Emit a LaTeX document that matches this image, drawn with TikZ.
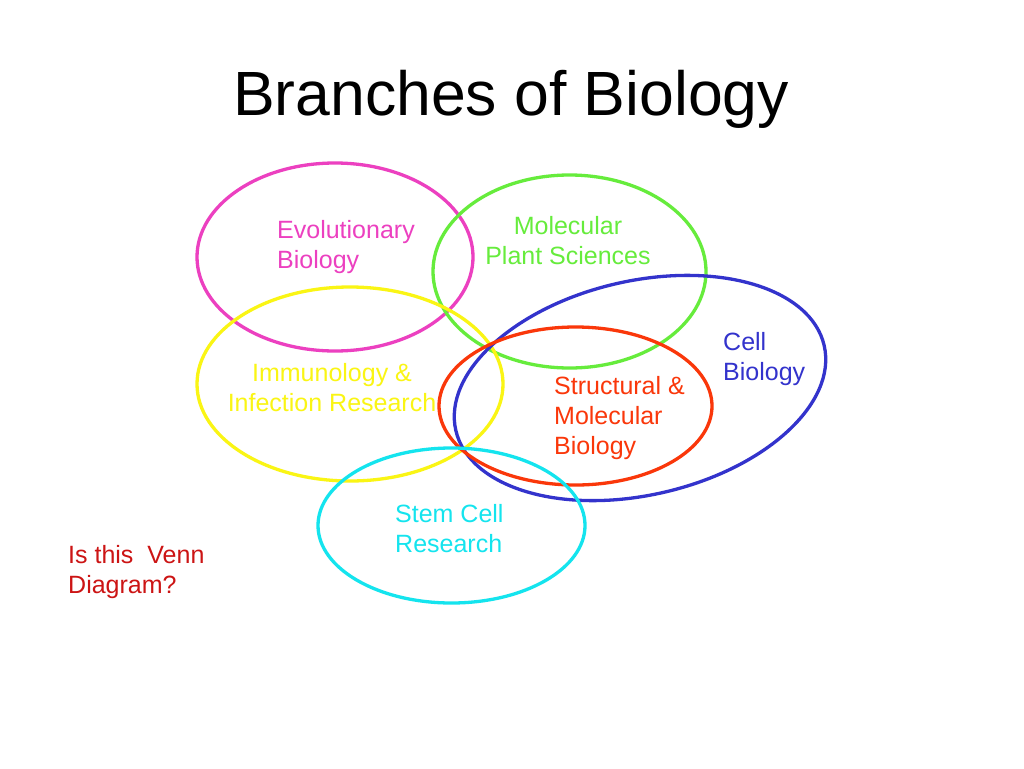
\documentclass[tikz,border=0pt]{standalone}
\usepackage{fontspec}
\setmainfont{Liberation Sans}
\definecolor{cmag}{RGB}{236,64,192}
\definecolor{cgreen}{RGB}{102,236,60}
\definecolor{cyel}{RGB}{250,245,20}
\definecolor{cblue}{RGB}{51,51,204}
\definecolor{cred}{RGB}{250,55,10}
\definecolor{ccyan}{RGB}{20,228,238}
\definecolor{cdred}{RGB}{204,20,20}
\begin{document}
\begin{tikzpicture}[x=1pt,y=1pt,
  ring/.style={line width=3.3pt},
  lbl/.style={inner sep=0pt,font=\fontsize{25}{30}\selectfont}]
\useasboundingbox[fill=white] (0,0) rectangle (1024,-768);
\node[inner sep=0pt,anchor=base,font=\fontsize{62.5}{72}\selectfont] (title) at (511,-115) {Branches of Biology};
% ellipses
\draw[ring,cmag] (335,-257) ellipse [x radius=138, y radius=94];
\draw[ring,cgreen] (569.5,-271.5) ellipse [x radius=136.5, y radius=96.5];
\draw[ring,cyel] (350,-384) ellipse [x radius=153, y radius=97];
\draw[ring,cblue,rotate around={13:(640,-388)}] (640,-388) ellipse [x radius=189, y radius=107];
\draw[ring,cred] (575.5,-406) ellipse [x radius=136.5, y radius=79];
\draw[ring,ccyan] (451.5,-525.5) ellipse [x radius=133.5, y radius=77.5];
% labels (base anchor = baseline of last line)
\node[lbl,cmag,anchor=base west,align=left] (evo) at (277,-268) {Evolutionary\\Biology};
\node[lbl,cgreen,anchor=base,align=center] (mol) at (568,-264) {Molecular\\Plant Sciences};
\node[lbl,cyel,anchor=base,align=center] (imm) at (332,-411) {Immunology \&\\Infection Research};
\node[lbl,cblue,anchor=base west,align=left] (cell) at (723,-380) {Cell\\Biology};
\node[lbl,cred,anchor=base west,align=left] (struct) at (554,-454) {Structural \&\\Molecular\\Biology};
\node[lbl,ccyan,anchor=base west,align=left] (stem) at (395,-552) {Stem Cell\\Research};
\node[lbl,cdred,anchor=base west,align=left] (q) at (68,-593) {Is this\ \ Venn\\Diagram?};
\end{tikzpicture}
\end{document}
